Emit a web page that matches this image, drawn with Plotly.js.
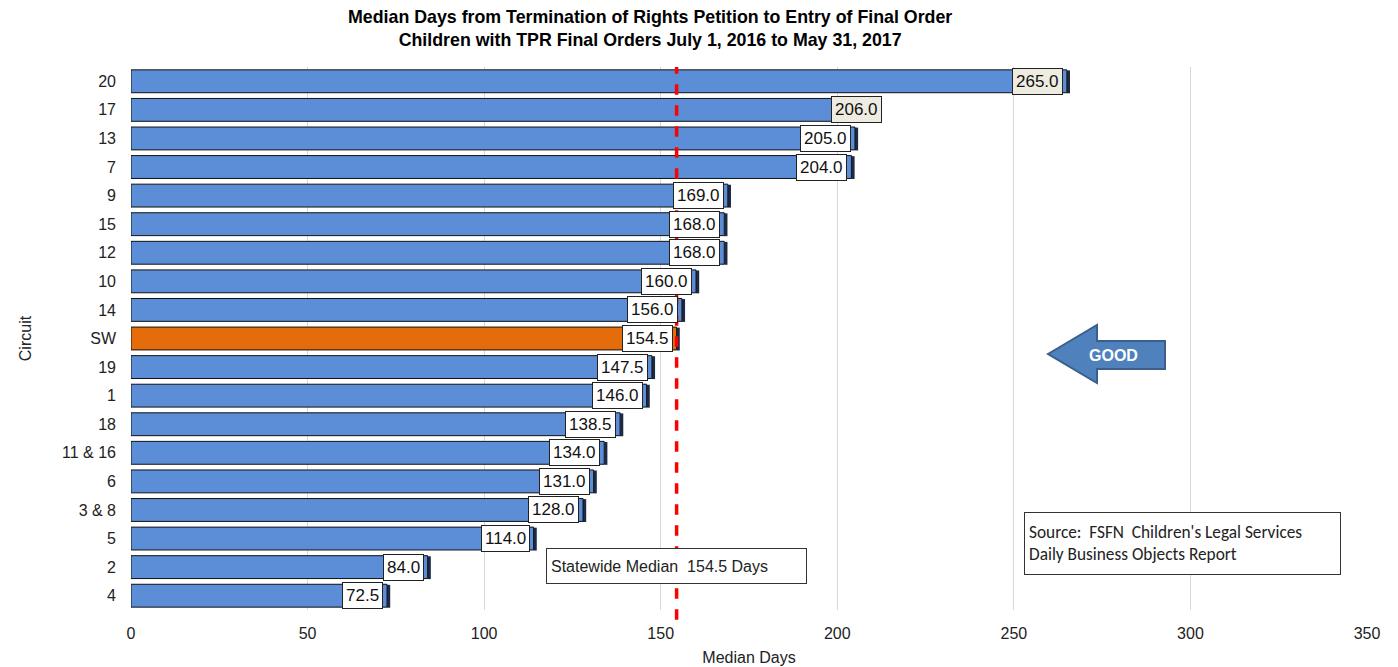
<!DOCTYPE html>
<html>
<head>
<meta charset="utf-8">
<script src="https://cdn.plot.ly/plotly-3.0.1.min.js"></script>
<style>html,body{margin:0;padding:0;background:#fff;}#chart{width:1398px;height:667px;}</style>
</head>
<body>
<div id="chart"></div>
<script>
const circuits = ["20","17","13","7","9","15","12","10","14","SW","19","1","18","11 & 16","6","3 & 8","5","2","4"];
const medianDays = [265.0,206.0,205.0,204.0,169.0,168.0,168.0,160.0,156.0,154.5,147.5,146.0,138.5,134.0,131.0,128.0,114.0,84.0,72.5];
const statewideMedian = 154.5;
const xTicks = [0,50,100,150,200,250,300,350];

const W = 1398, H = 667;
const M = {l:131, r:31, t:67, b:57};
const PW = W - M.l - M.r, PH = H - M.t - M.b;
const px = x => (x - M.l) / PW;
const py = y => (H - M.b - y) / PH;

const blue = '#5b8ed6', orange = '#e46c0a', dark = '#1c2a44';
const colors = circuits.map(c => c === 'SW' ? orange : blue);
const idx = circuits.map((c,i) => i);

const shadow = {
  type:'bar', orientation:'h', y:idx, x:medianDays.map(()=>0.9), base:medianDays,
  marker:{color:dark, line:{width:0}}, width:0.8, offset:-0.38, hoverinfo:'skip', showlegend:false
};
const bars = {
  type:'bar', orientation:'h', y:idx, x:medianDays,
  marker:{color:colors, line:{color:'#111', width:1}}, width:0.8, showlegend:false
};

const annotations = medianDays.map((v,i) => {
  const beige = (i === 0 || i === 1);
  return {
    x:v, y:i, xref:'x', yref:'y', text:v.toFixed(1), showarrow:false,
    xanchor:'right', yanchor:'middle', xshift: i === 1 ? 24 : -4,
    font:{family:'Arial, Liberation Sans, sans-serif', size:17, color:'#111'},
    bgcolor: beige ? '#eeebe0' : '#ffffff', bordercolor:'#222', borderwidth:1, borderpad:3
  };
});
annotations.push({
  x:statewideMedian, y:py(566), xref:'x', yref:'paper', xanchor:'center', yanchor:'middle',
  text:'Statewide Median&nbsp;&nbsp;154.5 Days', showarrow:false, width:251, height:26, align:'left',
  font:{family:'Arial, Liberation Sans, sans-serif', size:16, color:'#222'},
  bgcolor:'#ffffff', bordercolor:'#333', borderwidth:1, borderpad:4
});
annotations.push({
  x:px(1182.5), y:py(543.5), xref:'paper', yref:'paper', xanchor:'center', yanchor:'middle',
  text:"Source:&nbsp; FSFN&nbsp; Children's Legal Services<br>Daily Business Objects Report", showarrow:false,
  width:307, height:53, align:'left',
  font:{family:'Carlito, Lato, "Open Sans", sans-serif', size:17.3, color:'#222'},
  bgcolor:'#ffffff', bordercolor:'#333', borderwidth:1, borderpad:4
});
annotations.push({
  x:px(1113), y:py(355), xref:'paper', yref:'paper', xanchor:'center', yanchor:'middle',
  text:'<b>GOOD</b>', showarrow:false,
  font:{family:'Arial, Liberation Sans, sans-serif', size:16, color:'#ffffff'}
});
annotations.push({
  x:px(649.5), y:py(28), xref:'paper', yref:'paper', xanchor:'center', yanchor:'middle', showarrow:false,
  text:'<b>Median Days from Termination of Rights Petition to Entry of Final Order<br>Children with TPR Final Orders July 1, 2016 to May 31, 2017</b>',
  font:{family:'Arial, Liberation Sans, sans-serif', size:17.8, color:'#000'}
});

const arrowPath = () => {
  const pts = [[1048,354],[1097,325],[1097,341],[1165,341],[1165,369],[1097,369],[1097,383]];
  return 'M ' + pts.map(p => px(p[0]).toFixed(5)+','+py(p[1]).toFixed(5)).join(' L ') + ' Z';
};

const layout = {
  width:W, height:H, margin:M, paper_bgcolor:'#fff', plot_bgcolor:'#fff',
  barmode:'overlay',
  xaxis:{range:[0,350], tickvals:xTicks, ticktext:xTicks.map(String), showgrid:true, gridcolor:'#d9d9d9', gridwidth:1,
    zeroline:false, showline:false, ticks:'', ticklen:0, ticklabelstandoff:12,
    tickfont:{family:'Arial, Liberation Sans, sans-serif', size:16, color:'#222'},
    title:{text:'Median Days', font:{family:'Arial, Liberation Sans, sans-serif', size:16, color:'#222'}, standoff:10}},
  yaxis:{range:[circuits.length-0.5, -0.5], tickvals:idx, ticktext:circuits,
    showgrid:false, zeroline:false, showline:false, ticks:'', ticklabelstandoff:14,
    tickfont:{family:'Arial, Liberation Sans, sans-serif', size:16, color:'#222'},
    title:{text:'Circuit', font:{family:'Arial, Liberation Sans, sans-serif', size:16, color:'#222'}, standoff:26}},
  shapes:[
    {type:'line', xref:'x', yref:'paper', x0:statewideMedian, x1:statewideMedian, y0:-0.018, y1:1,
      line:{color:'#ff0000', width:3.5, dash:'dash'}, layer:'above'},
    {type:'path', xref:'paper', yref:'paper', path:arrowPath(), fillcolor:'#4f81bd', line:{color:'#3a5f8c', width:2}, layer:'above'}
  ],
  annotations:annotations
};

Plotly.newPlot('chart', [shadow, bars], layout, {displayModeBar:false, staticPlot:true});
</script>
</body>
</html>
